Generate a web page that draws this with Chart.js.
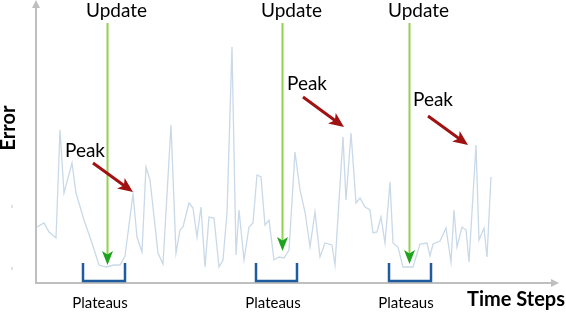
<!DOCTYPE html>
<html>
<head>
<meta charset="utf-8">
<script src="https://cdn.jsdelivr.net/npm/chart.js@4/dist/chart.umd.min.js"></script>
<style>
  html, body { margin: 0; padding: 0; background: #fff; }
  #wrap { width: 566px; height: 312px; }
</style>
</head>
<body>
<div id="wrap"><canvas id="errChart"></canvas></div>
<script>
// time step index and error value
const timeSteps = [1, 8, 13, 20, 24, 28, 36, 40, 48, 56, 63, 70, 78, 84, 89, 97, 101, 106, 110, 114,
  122, 127, 135, 140, 144, 147, 153, 157, 161, 165, 169, 173, 178, 183, 187, 191, 196, 200, 203, 208,
  213, 217, 221, 225, 229, 233, 238, 243, 248, 253, 259, 264, 269, 274, 279, 284, 289, 296, 299, 307,
  310, 315, 320, 324, 329, 334, 337, 341, 345, 349, 354, 357, 362, 367, 377, 380, 384, 391, 394, 397,
  404, 410, 415, 418, 421, 426, 430, 433, 440, 443, 448, 451, 455];
const errorValues = [56, 60, 51, 45, 153, 90, 120, 90, 63, 40, 18, 16, 18, 18, 27, 89, 46, 31, 116, 103,
  30, 19, 158, 30, 53, 56, 80, 75, 46, 76, 16, 66, 65, 16, 23, 70, 236, 28, 73, 23,
  56, 60, 108, 106, 58, 63, 23, 26, 25, 33, 131, 93, 71, 36, 71, 26, 40, 38, 18, 146,
  83, 150, 80, 85, 76, 73, 50, 51, 66, 40, 101, 40, 36, 16, 16, 26, 39, 40, 27, 39,
  42, 55, 21, 73, 36, 56, 53, 21, 138, 43, 55, 26, 106];

// annotations (in time step / error units)
const updateSteps = [71, 246, 373];
const updateTops = [260, 260, 260];
const updateTips = [18, 32, 19];
const peakFrom = [[57, 120], [267, 186], [392, 167]];
const peakTo = [[97, 91], [308, 156], [432, 138]];
const peakLabelAt = [[49, 132], [271, 199], [397, 183]];
const plateauRanges = [[47, 89], [220, 261], [353, 395]];
const plateauLabelSteps = [64, 237, 370];

const font = 'Lato, "Open Sans", sans-serif';

function arrowHead(ctx, x1, y1, x2, y2, len, wid, color) {
  const a = Math.atan2(y2 - y1, x2 - x1);
  ctx.save();
  ctx.translate(x2, y2);
  ctx.rotate(a);
  ctx.fillStyle = color;
  ctx.beginPath();
  ctx.moveTo(0, 0);
  ctx.lineTo(-len, -wid / 2);
  ctx.lineTo(-len * 0.75, 0);
  ctx.lineTo(-len, wid / 2);
  ctx.closePath();
  ctx.fill();
  ctx.restore();
}

const decor = {
  id: 'decor',
  beforeDatasetsDraw(chart) {
    const { ctx, chartArea: a } = chart;
    ctx.save();
    // axes
    ctx.strokeStyle = '#bfbfbf';
    ctx.lineWidth = 2;
    ctx.beginPath();
    ctx.moveTo(a.left, 4);
    ctx.lineTo(a.left, a.bottom);
    ctx.lineTo(a.right, a.bottom);
    ctx.stroke();
    ctx.fillStyle = '#bfbfbf';
    ctx.beginPath();
    ctx.moveTo(a.left, 0); ctx.lineTo(a.left - 4, 8); ctx.lineTo(a.left + 4, 8); ctx.closePath(); ctx.fill();
    ctx.beginPath();
    ctx.moveTo(a.right + 3, a.bottom); ctx.lineTo(a.right - 5, a.bottom - 4); ctx.lineTo(a.right - 5, a.bottom + 4); ctx.closePath(); ctx.fill();
    // stray ticks left of the axis
    ctx.strokeStyle = '#c8c8c8';
    ctx.lineWidth = 1;
    ctx.beginPath();
    ctx.moveTo(12, 205); ctx.lineTo(12, 208);
    ctx.moveTo(12, 267); ctx.lineTo(12, 270);
    ctx.stroke();
    ctx.restore();
  },
  afterDatasetsDraw(chart) {
    const { ctx, scales: { x, y } } = chart;
    ctx.save();
    ctx.textAlign = 'center';
    ctx.textBaseline = 'middle';

    // update arrows
    updateSteps.forEach((s, i) => {
      const px = Math.round(x.getPixelForValue(s)) + 0.5;
      const top = y.getPixelForValue(updateTops[i]);
      const tip = y.getPixelForValue(updateTips[i]);
      ctx.strokeStyle = '#92d050';
      ctx.lineWidth = 2;
      ctx.beginPath();
      ctx.moveTo(px, top);
      ctx.lineTo(px, tip - 8);
      ctx.stroke();
      arrowHead(ctx, px, top, px, tip, 14, 11, '#1fa31f');
      ctx.fillStyle = '#000';
      ctx.font = '19px ' + font;
      ctx.fillText('Update', px + 9, 11);
    });

    // peak arrows
    peakFrom.forEach((f, i) => {
      const x1 = x.getPixelForValue(f[0]), y1 = y.getPixelForValue(f[1]);
      const x2 = x.getPixelForValue(peakTo[i][0]), y2 = y.getPixelForValue(peakTo[i][1]);
      const a = Math.atan2(y2 - y1, x2 - x1);
      ctx.strokeStyle = '#a01212';
      ctx.lineWidth = 3;
      ctx.beginPath();
      ctx.moveTo(x1, y1);
      ctx.lineTo(x2 - Math.cos(a) * 9, y2 - Math.sin(a) * 9);
      ctx.stroke();
      arrowHead(ctx, x1, y1, x2, y2, 15, 13, '#a01212');
      ctx.fillStyle = '#000';
      ctx.font = '19px ' + font;
      ctx.fillText('Peak', x.getPixelForValue(peakLabelAt[i][0]), y.getPixelForValue(peakLabelAt[i][1]));
    });

    // plateau brackets
    plateauRanges.forEach((r, i) => {
      const xa = x.getPixelForValue(r[0]), xb = x.getPixelForValue(r[1]);
      const yt = y.getPixelForValue(20), yb = y.getPixelForValue(2);
      ctx.strokeStyle = '#1f5c9e';
      ctx.lineWidth = 2.5;
      ctx.beginPath();
      ctx.moveTo(xa, yt); ctx.lineTo(xa, yb); ctx.lineTo(xb, yb); ctx.lineTo(xb, yt);
      ctx.stroke();
      ctx.fillStyle = '#000';
      ctx.font = '15px ' + font;
      ctx.fillText('Plateaus', x.getPixelForValue(plateauLabelSteps[i]), 303);
    });

    // axis titles
    ctx.font = 'bold 20px ' + font;
    ctx.fillText('Time Steps', 516, 300);
    ctx.translate(9, 128);
    ctx.rotate(-Math.PI / 2);
    ctx.fillText('Error', 0, 0);
    ctx.restore();
  }
};

new Chart(document.getElementById('errChart'), {
  type: 'line',
  data: {
    datasets: [{
      label: 'Error',
      data: timeSteps.map((t, i) => ({ x: t, y: errorValues[i] })),
      borderColor: '#c9d9e8',
      borderWidth: 1.3,
      pointRadius: 0,
      tension: 0,
      fill: false,
    }],
  },
  options: {
    responsive: true,
    maintainAspectRatio: false,
    animation: false,
    layout: { padding: { left: 36, right: 10, top: 0, bottom: 29 } },
    scales: {
      x: { type: 'linear', min: 0, max: 520, display: false },
      y: { min: 0, max: 283, display: false },
    },
    plugins: { legend: { display: false }, tooltip: { enabled: false } },
  },
  plugins: [decor],
});
</script>
</body>
</html>
